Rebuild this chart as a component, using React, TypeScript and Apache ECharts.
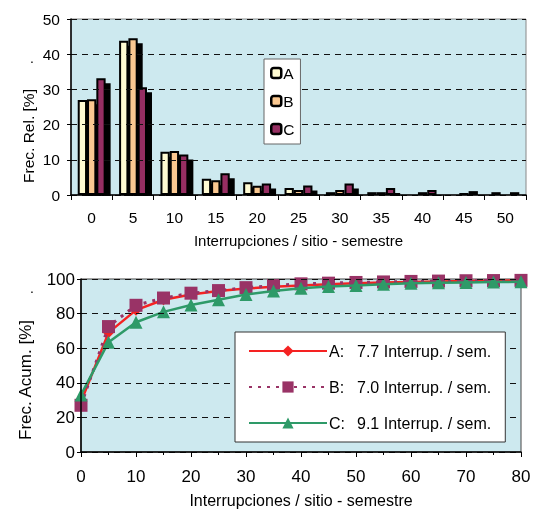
import React, { useEffect, useRef } from "react";
import * as echarts from "echarts";

const relCategories = ["0", "5", "10", "15", "20", "25", "30", "35", "40", "45", "50"];
const relA = [27, 43.8, 12.3, 4.6, 3.6, 2.0, 0.8, 0.8, 0.4, 0.2, 0.8];
const relB = [27.2, 44.5, 12.5, 4.2, 2.6, 1.4, 1.4, 0.8, 0.8, 0.6, 0.4];
const relC = [33.2, 30.6, 11.5, 6.2, 3.3, 2.7, 3.3, 2.0, 1.4, 1.1, 0.8];

const cumX = [0, 5, 10, 15, 20, 25, 30, 35, 40, 45, 50, 55, 60, 65, 70, 75, 80];
const cumA = [29, 69, 82, 88, 91, 93, 94.5, 95.5, 96.3, 97, 97.5, 98, 98.3, 98.6, 98.8, 99, 99.2];
const cumB = [27, 72.5, 84.8, 89, 91.8, 93.3, 95, 96.2, 97.2, 97.6, 98, 98.3, 98.6, 98.8, 99, 99.1, 99.2];
const cumC = [33, 63.5, 75, 81, 85, 88, 91, 93, 94.7, 95.6, 96.3, 97, 97.5, 97.8, 98, 98.2, 98.4];

const seriesNames = ["A", "B", "C"];
const meanRates = ["7.7", "7.0", "9.1"];

const xTitle = "Interrupciones / sitio - semestre";
const yTitleTop = "Frec. Rel. [%]";
const yTitleBottom = "Frec. Acum. [%]";

const FONT = "Liberation Sans, Arial, sans-serif";
const BG = "#cde9ef";
const barColors = ["#fffbd2", "#fac891", "#962f62"];
const lineColors = ["#f52222", "#993366", "#2e9a68"];

export default function App() {
  const ref = useRef<HTMLDivElement>(null);

  useEffect(() => {
    if (!ref.current) return;
    const chart = echarts.init(ref.current, undefined, { renderer: "svg" });
    const relData = [relA, relB, relC];
    const cumData = [cumA, cumB, cumC];
    const cumNames = seriesNames.map((n, i) => `${n}:   ${meanRates[i]} Interrup. / sem.`);
    const symbols = ["diamond", "rect", "triangle"];
    const symbolSizes = [11, 13, 13];

    const dashed = { color: "#111", width: 1, type: [6, 5] as any };

    chart.setOption({
      animation: false,
      textStyle: { fontFamily: FONT },
      grid: [
        {
          left: 71, top: 19, width: 455, height: 176,
          show: true, backgroundColor: BG, borderColor: "#888", borderWidth: 1,
        },
        {
          left: 81, top: 279, width: 440, height: 175,
          show: true, backgroundColor: BG, borderColor: "#444", borderWidth: 1,
        },
      ],
      xAxis: [
        {
          gridIndex: 0,
          type: "category",
          data: relCategories,
          boundaryGap: true,
          axisLine: { lineStyle: { color: "#000", width: 1.5 } },
          axisTick: { show: true, alignWithLabel: false, interval: 0, length: 5, lineStyle: { color: "#000" } },
          axisLabel: { color: "#000", fontSize: 15.5, margin: 14, fontFamily: FONT },
          name: xTitle,
          nameLocation: "middle",
          nameGap: 38,
          nameTextStyle: { color: "#000", fontSize: 15, fontFamily: FONT },
          z: 10,
        },
        {
          gridIndex: 1,
          type: "value",
          min: 0, max: 80, interval: 10,
          axisLine: { lineStyle: { color: "#000", width: 1.5 } },
          axisTick: { show: true, length: 5, lineStyle: { color: "#000" } },
          minorTick: { show: true, splitNumber: 2, length: 3, lineStyle: { color: "#000" } },
          splitLine: { show: false },
          axisLabel: { color: "#000", fontSize: 17, margin: 16, fontFamily: FONT },
          name: xTitle,
          nameLocation: "middle",
          nameGap: 40,
          nameTextStyle: { color: "#000", fontSize: 16, fontFamily: FONT },
          z: 10,
        },
      ],
      yAxis: [
        {
          gridIndex: 0,
          type: "value",
          min: 0, max: 50, interval: 10,
          axisLine: { show: true, lineStyle: { color: "#000", width: 1.5 } },
          axisTick: { show: true, length: 4, lineStyle: { color: "#000" } },
          axisLabel: { color: "#000", fontSize: 15.5, margin: 11, fontFamily: FONT },
          splitLine: { show: true, lineStyle: dashed },
          z: 10,
        },
        {
          gridIndex: 1,
          type: "value",
          min: 0, max: 100, interval: 20,
          axisLine: { show: true, lineStyle: { color: "#000", width: 1.5 } },
          axisTick: { show: true, length: 4, lineStyle: { color: "#000" } },
          axisLabel: { color: "#000", fontSize: 17, margin: 6, fontFamily: FONT },
          splitLine: { show: true, lineStyle: dashed },
          z: 10,
        },
      ],
      legend: [
        {
          data: seriesNames,
          orient: "vertical",
          left: 264,
          top: 59,
          width: 41,
          itemWidth: 10,
          itemHeight: 10,
          itemGap: 12,
          padding: [6, 6, 7, 6],
          backgroundColor: "#fff",
          borderColor: "#666",
          borderWidth: 1,
          z: 20,
          textStyle: { color: "#000", fontSize: 15.5, fontFamily: FONT, padding: [0, 0, 0, -3] },
          itemStyle: { borderColor: "#000", borderWidth: 2.5, shadowBlur: 0, shadowOffsetX: 0, shadowOffsetY: 0, shadowColor: "rgba(0,0,0,0)" },
          selectedMode: false,
        },
        {
          data: cumNames,
          orient: "vertical",
          left: 235,
          top: 332,
          itemWidth: 78,
          itemHeight: 14,
          itemGap: 20,
          padding: [11, 14, 11, 13],
          backgroundColor: "#fff",
          borderColor: "#333",
          borderWidth: 1,
          z: 20,
          textStyle: {
            color: "#000",
            fontSize: 16,
            fontFamily: FONT,
            padding: [0, 0, 0, -3],
            rich: {
              k: { width: 28, fontSize: 16, fontFamily: FONT, color: "#000" },
              v: { fontSize: 16, fontFamily: FONT, color: "#000" },
            },
          },
          formatter: (name: string) => {
            const i = cumNames.indexOf(name);
            return `{k|${seriesNames[i]}:}{v|${meanRates[i]} Interrup. / sem.}`;
          },
          selectedMode: false,
        },
      ],
      series: [
        ...seriesNames.map((n, i) => ({
          name: n,
          type: "bar",
          xAxisIndex: 0,
          yAxisIndex: 0,
          data: relData[i],
          barWidth: 9.3,
          barGap: "0%",
          itemStyle: {
            color: barColors[i],
            borderColor: "#000",
            borderWidth: 2,
            shadowColor: "#000",
            shadowBlur: 0,
            shadowOffsetX: 5,
            shadowOffsetY: 5,
          },
        })),
        ...seriesNames.map((n, i) => ({
          name: cumNames[i],
          type: "line",
          xAxisIndex: 1,
          yAxisIndex: 1,
          data: cumX.map((x, j) => [x, cumData[i][j]]),
          symbol: symbols[i],
          symbolSize: symbolSizes[i],
          showAllSymbol: true,
          lineStyle: {
            color: lineColors[i],
            width: i === 1 ? 3 : 2.5,
            type: i === 1 ? [3, 6] : "solid",
          },
          itemStyle: { color: lineColors[i], borderWidth: 0 },
          z: 3 + i,
        })),
      ],
      graphic: [
        {
          type: "rect",
          z: 6,
          silent: true,
          shape: { x: 72, y: 196, width: 462, height: 8 },
          style: { fill: "#fff" },
        },
        {
          type: "text",
          x: 28, y: 136,
          rotation: Math.PI / 2,
          style: { text: yTitleTop, font: `15.5px ${FONT}`, fill: "#000", textAlign: "center", textVerticalAlign: "middle" },
        },
        {
          type: "text",
          x: 25, y: 380,
          rotation: Math.PI / 2,
          style: { text: yTitleBottom, font: `17px ${FONT}`, fill: "#000", textAlign: "center", textVerticalAlign: "middle" },
        },
        {
          type: "text",
          x: 32, y: 58,
          style: { text: ".", font: `14px ${FONT}`, fill: "#000", textAlign: "center", textVerticalAlign: "middle" },
        },
        {
          type: "text",
          x: 32, y: 288,
          style: { text: ".", font: `14px ${FONT}`, fill: "#000", textAlign: "center", textVerticalAlign: "middle" },
        },
      ],
    } as any);

    return () => chart.dispose();
  }, []);

  return (
    <div
      ref={ref}
      style={{ position: "fixed", left: 0, top: 0, width: 534, height: 509 }}
    />
  );
}
